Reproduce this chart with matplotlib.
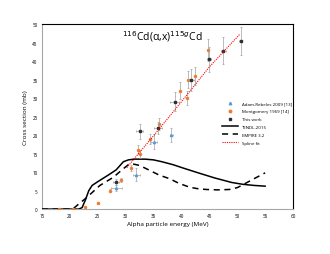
import matplotlib

matplotlib.use("Agg")
import matplotlib.pyplot as plt
import numpy as np

plt.rcParams["font.family"] = ["Open Sans", "DejaVu Sans"]

# This work
this_e = [28.3, 32.5, 35.8, 38.8, 41.7, 44.9, 47.5, 50.6]
this_cs = [7.3, 21.0, 22.0, 29.0, 34.8, 40.5, 42.8, 45.5]
this_de = [0.6, 0.7, 0.7, 0.8, 0.5, 0.4, 0.4, 0.3]
this_dcs = [0.8, 2.0, 1.6, 2.5, 3.0, 3.4, 3.6, 3.8]

# Adam-Rebeles 2009 [13]
adam_e = [28.3, 31.9, 35.1, 38.2]
adam_cs = [5.7, 9.3, 18.2, 20.0]
adam_de = [1.0, 0.6, 0.5, 0.3]
adam_dcs = [0.8, 1.8, 2.0, 2.0]

# Montgomery 1969 [14]
mont_e = [18.0, 20.5, 22.8, 25.0, 27.2, 29.2, 31.0, 32.2, 32.5, 34.3, 36.0, 39.7, 41.0, 41.2, 42.5, 44.7]
mont_cs = [0.0, 0.1, 0.5, 1.7, 4.9, 7.8, 11.0, 16.0, 15.0, 19.0, 23.0, 32.0, 30.0, 35.0, 36.0, 43.0]
mont_dcs = [0.1, 0.1, 0.1, 0.2, 0.4, 0.6, 0.8, 1.2, 1.1, 1.4, 1.6, 2.2, 2.0, 2.4, 2.5, 3.0]

# TENDL-2015
tendl_e = [15, 21.6, 22.2, 22.8, 23.4, 24.0, 25.0, 27.0, 28.3, 29.6, 30.5, 31.5, 33.5, 35.0, 36.5, 38.5,
           40.5, 43.0, 46.0, 49.0, 51.0, 53.0, 55.0]
tendl_cs = [0, 0, 0.4, 2.5, 5.0, 6.4, 7.4, 9.3, 10.6, 12.8, 13.3, 13.5, 13.5, 13.3, 12.8, 12.0,
            11.0, 9.8, 8.4, 7.2, 6.7, 6.4, 6.2]

# EMPIRE 3.2
emp_e = [15, 20.5, 21.3, 23.0, 25.4, 27.8, 29.5, 30.5, 31.3, 32.5, 34.4, 36.0, 37.9, 39.5, 41.5,
         43.0, 44.5, 46.5, 48.6, 50.0, 50.8, 52.5, 55.0]
emp_cs = [0, 0, 1.0, 3.1, 6.4, 8.6, 10.8, 12.0, 12.2, 11.8, 10.4, 9.2, 8.2, 7.0, 5.9,
          5.5, 5.3, 5.2, 5.3, 5.8, 6.4, 7.8, 9.8]

# Spline fit
spl_e = [30.2, 35.0, 40.0, 45.0, 50.5]
spl_cs = [11.2, 19.8, 29.0, 38.4, 47.3]

fig = plt.figure(figsize=(3.3, 2.55), dpi=100)
ax = fig.add_axes([0.127, 0.176, 0.761, 0.726])

ecol = "#a0a0a0"
eb = dict(ecolor=ecol, elinewidth=0.5, capsize=0.8, capthick=0.5, ls="none")
ax.errorbar(adam_e, adam_cs, xerr=adam_de, yerr=adam_dcs, marker="^", color="#5b9bd5",
            ms=1.6, zorder=4, **eb)
ax.errorbar(mont_e, mont_cs, yerr=mont_dcs, marker="o", color="#ed7d31",
            ms=1.5, zorder=4, **eb)
ax.errorbar(this_e, this_cs, xerr=this_de, yerr=this_dcs, marker="s", color="#303030",
            ms=1.5, zorder=5, **eb)
h_tendl, = ax.plot(tendl_e, tendl_cs, color="black", lw=1.1, zorder=3)
h_emp, = ax.plot(emp_e, emp_cs, color="black", lw=1.1, ls=(0, (4, 3)), zorder=3)
h_spl, = ax.plot(spl_e, spl_cs, color="red", lw=0.8, ls=(0, (1, 1)), zorder=6)

ax.set_xlim(15, 60)
ax.set_ylim(0, 50)
ax.set_xticks(np.arange(15, 61, 5))
ax.set_yticks(np.arange(0, 51, 5))
ax.tick_params(labelsize=3.3, length=0, pad=3)
ax.set_xlabel("Alpha particle energy (MeV)", fontsize=4.6, labelpad=2)
ax.set_ylabel("Cross section (mb)", fontsize=4.6, labelpad=3)

ax.spines["left"].set_color("#a6a6a6")
ax.spines["bottom"].set_color("#a6a6a6")
ax.spines["top"].set_color("black")
ax.spines["right"].set_color("black")
for s in ax.spines.values():
    s.set_linewidth(0.8)

ax.text(0.48, 0.975, "$^{116}$Cd(α,x)$^{115g}$Cd", transform=ax.transAxes,
        ha="center", va="top", fontsize=7.5)

h_adam, = ax.plot([], [], "^", color="#5b9bd5", ms=1.8)
h_mont, = ax.plot([], [], "o", color="#ed7d31", ms=1.8)
h_this, = ax.plot([], [], "s", color="#303030", ms=1.8)
ax.legend([h_adam, h_mont, h_this, h_tendl, h_emp, h_spl],
          ["Adam-Rebeles 2009 [13]", "Montgomery 1969 [14]", "This work",
           "TENDL-2015", "EMPIRE 3.2", "Spline fit"],
          loc="upper left", bbox_to_anchor=(0.71, 0.595), fontsize=3.2, frameon=False,
          handlelength=3.5, labelspacing=0.85, handletextpad=0.8, borderpad=0)

fig.savefig("out.png", dpi=100)
